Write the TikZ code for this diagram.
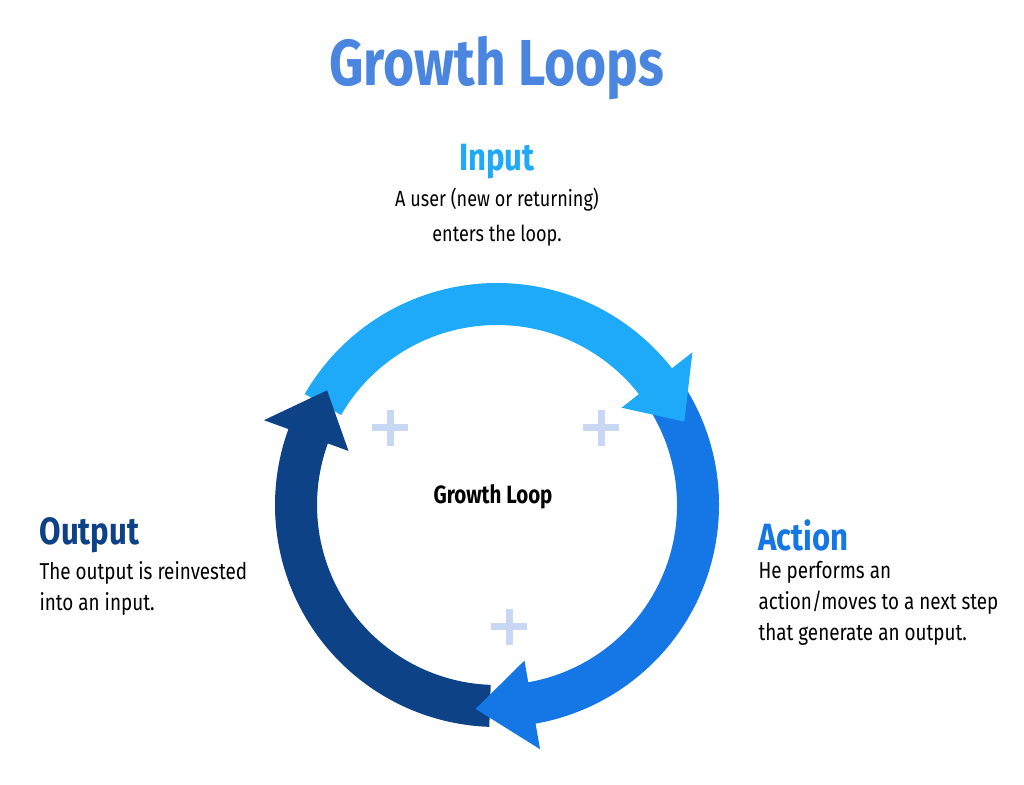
\documentclass[tikz,border=0pt]{standalone}
\usepackage{fontspec}
\setmainfont[FakeStretch=0.82]{Fira Sans}
\definecolor{inblue}{HTML}{1EAAF8}
\definecolor{actblue}{HTML}{1577E5}
\definecolor{outblue}{HTML}{0D4286}
\definecolor{titleblue}{HTML}{4A86E0}
\definecolor{plusblue}{HTML}{C8D8F4}
\tikzset{
  head/.style={font=\bfseries\fontsize{38}{42}\selectfont},
  desc/.style={font=\fontsize{23}{31}\selectfont, align=left, anchor=north west},
  plus/.style={plusblue, line width=7pt},
}
% ring segment: colour, start angle, end angle
\newcommand{\loopseg}[3]{%
  \fill[#1] (#2:222) arc[start angle=#2, end angle=#3, radius=222]
    -- (#3:180) arc[start angle=#3, end angle=#2, radius=180] -- cycle;
}
% arrow head: colour, base angle, tip angle
\newcommand{\loophead}[3]{%
  \fill[#1] (#2:158) -- (#2:248) -- (#3:205) -- cycle;
}
\begin{document}
\begin{tikzpicture}[x=1pt,y=1pt]
\useasboundingbox (0,0) rectangle (1024,784);
\node (title) at (497,716) {\color{titleblue}\bfseries\fontsize{65}{70}\selectfont Growth Loops};
\begin{scope}[shift={(497,279)}]
  \loopseg{inblue}{150}{36}
  \loopseg{actblue}{37}{-81}
  \loopseg{outblue}{268}{158}
  \loophead{actblue}{280}{264}
  \loophead{inblue}{38}{24}
  \loophead{outblue}{160}{146}
\end{scope}
\foreach \px/\py in {390/356, 601/356, 509/157}
  \draw[plus] (\px-18,\py) -- (\px+18,\py) (\px,\py-18) -- (\px,\py+18);
\node (center) at (493,287) {\bfseries\fontsize{25}{28}\selectfont Growth Loop};
\node[head, text=inblue] (input) at (497,622) {Input};
\node[font=\fontsize{22}{35}\selectfont, align=center, anchor=north] (indesc) at (497,600)
  {A user (new or returning)\\enters the loop.};
\node[head, text=outblue, anchor=west] (output) at (36,249) {Output};
\node[desc] (outdesc) at (36,226) {The output is reinvested\\into an input.};
\node[head, text=actblue, anchor=west] (action) at (755,249) {Action};
\node[desc] (actdesc) at (755,226) {He performs an\\action/moves to a next step\\that generate an output.};
\end{tikzpicture}
\end{document}
